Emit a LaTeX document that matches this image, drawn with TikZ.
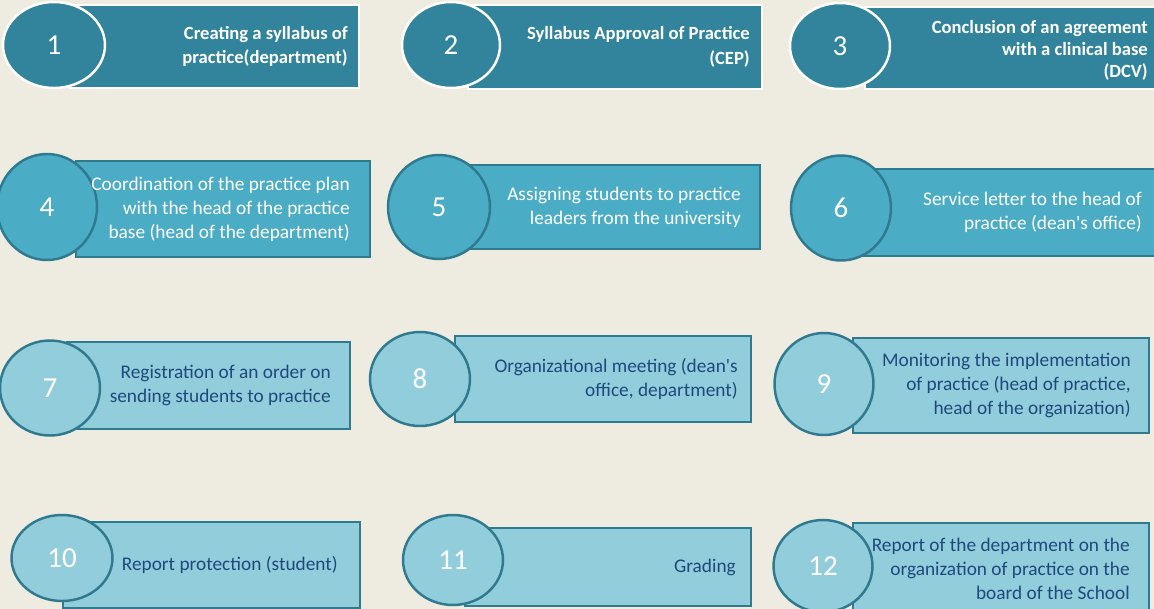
\documentclass[tikz,border=0pt]{standalone}
\usepackage{fontspec}
\setmainfont{Carlito}
\usetikzlibrary{positioning}
\usetikzlibrary{shapes.geometric}

\definecolor{paper}{RGB}{238,235,224}
\definecolor{tealdark}{RGB}{49,132,155}
\definecolor{tealmid}{RGB}{75,172,198}
\definecolor{teallight}{RGB}{146,205,220}
\definecolor{tealedge}{RGB}{47,122,143}
\definecolor{inkblue}{RGB}{31,73,125}

\begin{document}
\begin{tikzpicture}[x=0.02cm,y=-0.02cm,
  box/.style={rectangle,inner sep=0pt,line width=1.3pt},
  num/.style={ellipse,inner sep=0pt,line width=1.4pt,text=white,
    font=\fontsize{16.5pt}{16.5pt}\selectfont},
  lbl/.style={inner sep=0pt,align=right,text=inkblue,
    font=\fontsize{11pt}{13.6pt}\selectfont},
  darkbox/.style={box,fill=tealdark,draw=white},
  darknum/.style={num,fill=tealdark,draw=white},
  darklbl/.style={lbl,text=white,font=\fontsize{10.6pt}{14pt}\selectfont\bfseries},
  midbox/.style={box,fill=tealmid,draw=tealedge},
  midnum/.style={num,fill=tealmid,draw=tealedge},
  midlbl/.style={lbl,text=white},
  lightbox/.style={box,fill=teallight,draw=tealedge},
  lightnum/.style={num,fill=teallight,draw=tealedge}]
  \path[use as bounding box,fill=paper] (0,0) rectangle (1154,609);
  \clip (0,0) rectangle (1154,609);

  % first row
  \node[darkbox,minimum width=5.78cm,minimum height=1.66cm] (b1) at (214.5,46.5) {};
  \node[darknum,minimum width=2.04cm,minimum height=1.72cm] (n1) at (54,45) {1};
  \node[darklbl,left=0.24cm of b1.east] (t1) {Creating a syllabus of\\practice(department)};

  \node[darkbox,minimum width=5.88cm,minimum height=1.68cm] (b2) at (615,47) {};
  \node[darknum,minimum width=1.96cm,minimum height=1.72cm] (n2) at (451,45) {2};
  \node[darklbl,left=0.26cm of b2.east] (t2) {Syllabus Approval of Practice\\(CEP)};

  \node[darkbox,minimum width=6.10cm,minimum height=1.64cm] (b3) at (1017.5,48) {};
  \node[darknum,minimum width=2cm,minimum height=1.72cm] (n3) at (840,46) {3};
  \node[darklbl,font=\fontsize{10.6pt}{12.5pt}\selectfont\bfseries,left=0.46cm of b3.east,yshift=-0.05cm] (t3)
    {Conclusion of an agreement\\with a clinical base\\(DCV)};

  % second row
  \node[midbox,minimum width=5.88cm,minimum height=1.92cm] (b4) at (223,209) {};
  \node[midnum,minimum width=2cm,minimum height=2.12cm] (n4) at (47,207) {4};
  \node[midlbl,left=0.42cm of b4.east] (t4)
    {Coordination of the practice plan\\with the head of the practice\\base (head of the department)};

  \node[midbox,minimum width=5.96cm,minimum height=1.68cm] (b5) at (611,207) {};
  \node[midnum,minimum width=2.04cm,minimum height=2.08cm] (n5) at (439,207) {5};
  \node[midlbl,left=0.40cm of b5.east] (t5) {Assigning students to practice\\leaders from the university};

  \node[midbox,minimum width=6.16cm,minimum height=1.74cm] (b6) at (1016,212.5) {};
  \node[midnum,minimum width=2cm,minimum height=2.10cm] (n6) at (841,208) {6};
  \node[midlbl,left=0.58cm of b6.east] (t6) {Service letter to the head of\\practice (dean\textquotesingle s office)};

  % third row
  \node[lightbox,minimum width=5.66cm,minimum height=1.74cm] (b7) at (208.5,385.5) {};
  \node[lightnum,minimum width=2cm,minimum height=1.90cm] (n7) at (50,388) {7};
  \node[lbl,left=0.40cm of b7.east] (t7) {Registration of an order on\\sending students to practice};

  \node[lightbox,minimum width=5.92cm,minimum height=1.72cm] (b8) at (603,379) {};
  \node[lightnum,minimum width=2cm,minimum height=1.88cm] (n8) at (420,379) {8};
  \node[lbl,left=0.28cm of b8.east] (t8) {Organizational meeting (dean\textquotesingle s\\office, department)};

  \node[lightbox,minimum width=5.92cm,minimum height=1.90cm] (b9) at (1001,385.5) {};
  \node[lightnum,minimum width=1.98cm,minimum height=2.04cm] (n9) at (824,384) {9};
  \node[lbl,left=0.38cm of b9.east] (t9)
    {Monitoring the implementation\\of practice (head of practice,\\head of the organization)};

  % fourth row
  \node[lightbox,minimum width=5.94cm,minimum height=1.72cm] (b10) at (211.5,565) {};
  \node[lightnum,minimum width=2.02cm,minimum height=1.72cm] (n10) at (62,558) {10};
  \node[lbl,left=0.46cm of b10.east] (t10) {Report protection (student)};

  \node[lightbox,minimum width=5.72cm,minimum height=1.56cm] (b11) at (608,567) {};
  \node[lightnum,minimum width=2cm,minimum height=1.80cm] (n11) at (453,560) {11};
  \node[lbl,left=0.32cm of b11.east] (t11) {Grading};

  \node[lightbox,minimum width=5.92cm,minimum height=1.84cm] (b12) at (1001,569) {};
  \node[lightnum,minimum width=1.98cm,minimum height=1.84cm] (n12) at (823,566) {12};
  \node[lbl,left=0.40cm of b12.east] (t12)
    {Report of the department on the\\organization of practice on the\\board of the School};
\end{tikzpicture}
\end{document}
